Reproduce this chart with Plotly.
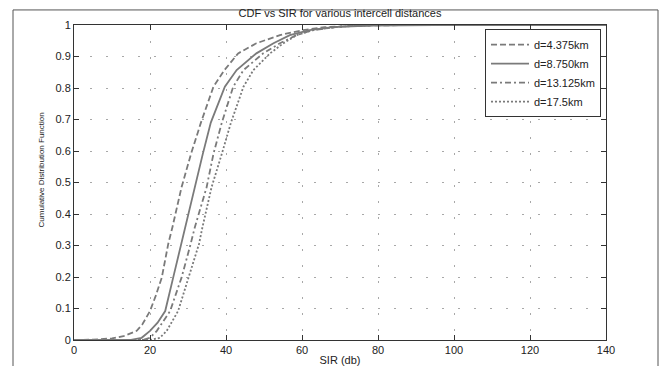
import plotly.graph_objects as go

# ---- data ----
series_names = ["d=4.375km", "d=8.750km", "d=13.125km", "d=17.5km"]

sir_d4375 = [0, 5, 10, 13, 16.5, 18, 20, 21.5, 23.1, 24.8, 25.9, 28.3, 30.8, 33.4,
             36.7, 39.6, 43.2, 48, 54.2, 60.3, 66, 75, 90, 140]
cdf_d4375 = [0, 0.001, 0.005, 0.012, 0.029, 0.05, 0.092, 0.14, 0.198, 0.305, 0.358,
             0.485, 0.591, 0.69, 0.804, 0.857, 0.91, 0.942, 0.968, 0.984, 0.993,
             0.998, 1, 1]

sir_d8750 = [0, 15, 17.8, 20, 22, 24, 26.1, 28.2, 29.2, 31.8, 33.9, 36, 39.7, 42.8,
             48, 52.5, 56.8, 62, 68, 78, 95, 140]
cdf_d8750 = [0, 0, 0.007, 0.029, 0.055, 0.092, 0.198, 0.305, 0.358, 0.485, 0.591,
             0.69, 0.804, 0.857, 0.91, 0.942, 0.968, 0.984, 0.993, 0.998, 1, 1]

sir_d13125 = [0, 18, 20, 21.8, 25.3, 28.3, 30.7, 31.8, 34.9, 36.7, 38.9, 41.9, 44.6,
              49.8, 54.2, 58.6, 63, 70, 80, 140]
cdf_d13125 = [0, 0, 0.007, 0.029, 0.092, 0.198, 0.305, 0.358, 0.485, 0.591, 0.69,
              0.804, 0.857, 0.91, 0.942, 0.968, 0.984, 0.995, 1, 1]

sir_d175 = [0, 20, 22.6, 24.4, 27.4, 30.1, 32.9, 33.8, 36.2, 38.9, 41.3, 44.6, 47.2,
            51.6, 55.1, 58.6, 63, 70, 80, 140]
cdf_d175 = [0, 0, 0.007, 0.029, 0.092, 0.198, 0.305, 0.358, 0.485, 0.591, 0.69,
            0.804, 0.857, 0.91, 0.942, 0.968, 0.984, 0.995, 1, 1]

x_ticks = [0, 20, 40, 60, 80, 100, 120, 140]
y_ticks = [0, 0.1, 0.2, 0.3, 0.4, 0.5, 0.6, 0.7, 0.8, 0.9, 1]

# ---- styles ----
FONT = "Liberation Sans, Arial, Helvetica, sans-serif"
LINE_COLOR = "#7a7a7a"
dashes = ["6px,3px", "solid", "6px,3px,2px,3px", "2px,2px"]
xs = [sir_d4375, sir_d8750, sir_d13125, sir_d175]
ys = [cdf_d4375, cdf_d8750, cdf_d13125, cdf_d175]

fig = go.Figure()
for name, x, y, d in zip(series_names, xs, ys, dashes):
    fig.add_trace(go.Scatter(x=x, y=y, mode="lines", name=name,
                             line=dict(color=LINE_COLOR, width=1.8, dash=d)))

axis_common = dict(
    showline=True, linecolor="#333333", linewidth=1, mirror="ticks",
    ticks="inside", ticklen=5, tickcolor="#333333",
    showgrid=True, gridcolor="#a8a8a8", gridwidth=1, griddash="2px,14px",
    zeroline=False, automargin=False,
    tickfont=dict(family=FONT, size=11, color="#222222"),
)

fig.update_layout(
    width=662, height=366,
    margin=dict(l=74, r=56, t=25, b=26),
    paper_bgcolor="white", plot_bgcolor="white",
    font=dict(family=FONT, size=11, color="#222222"),
    title=dict(text="CDF vs SIR for various intercell distances",
               x=0.5, xref="paper", xanchor="center",
               y=1 - 13 / 366, yref="container", yanchor="middle",
               font=dict(family=FONT, size=11, color="#222222")),
    xaxis=dict(range=[0, 140], tickvals=x_ticks,
               title=dict(text="SIR (db)", standoff=1,
                          font=dict(family=FONT, size=11, color="#222222")),
               **axis_common),
    yaxis=dict(range=[0, 1], tickvals=y_ticks, ticktext=[f"{v:g}" for v in y_ticks],
               **axis_common),
    legend=dict(x=0.9906, y=0.987, xanchor="right", yanchor="top",
                bgcolor="white", bordercolor="#333333", borderwidth=1,
                font=dict(family=FONT, size=11, color="#222222"),
                itemwidth=38, tracegroupgap=0),
    showlegend=True,
)

# y-axis label (condensed look in reference)
fig.add_annotation(text="Cumulative Distribution Function", textangle=-90,
                   xref="paper", yref="paper", x=-33 / 532, y=(339 - 170) / 314,
                   xanchor="center", yanchor="middle", showarrow=False,
                   font=dict(family=FONT, size=8, color="#222222"))

# outer figure frame
fig.add_shape(type="rect", xref="paper", yref="paper",
              x0=(13 - 74) / 532, x1=(658 - 74) / 532,
              y0=(339 - 372) / 314, y1=(339 - 10) / 314,
              line=dict(color="#555555", width=1), layer="below")

fig.write_html("out.html", config={"displayModeBar": False},
               post_script="document.body.style.margin='0';document.body.style.padding='0';")
